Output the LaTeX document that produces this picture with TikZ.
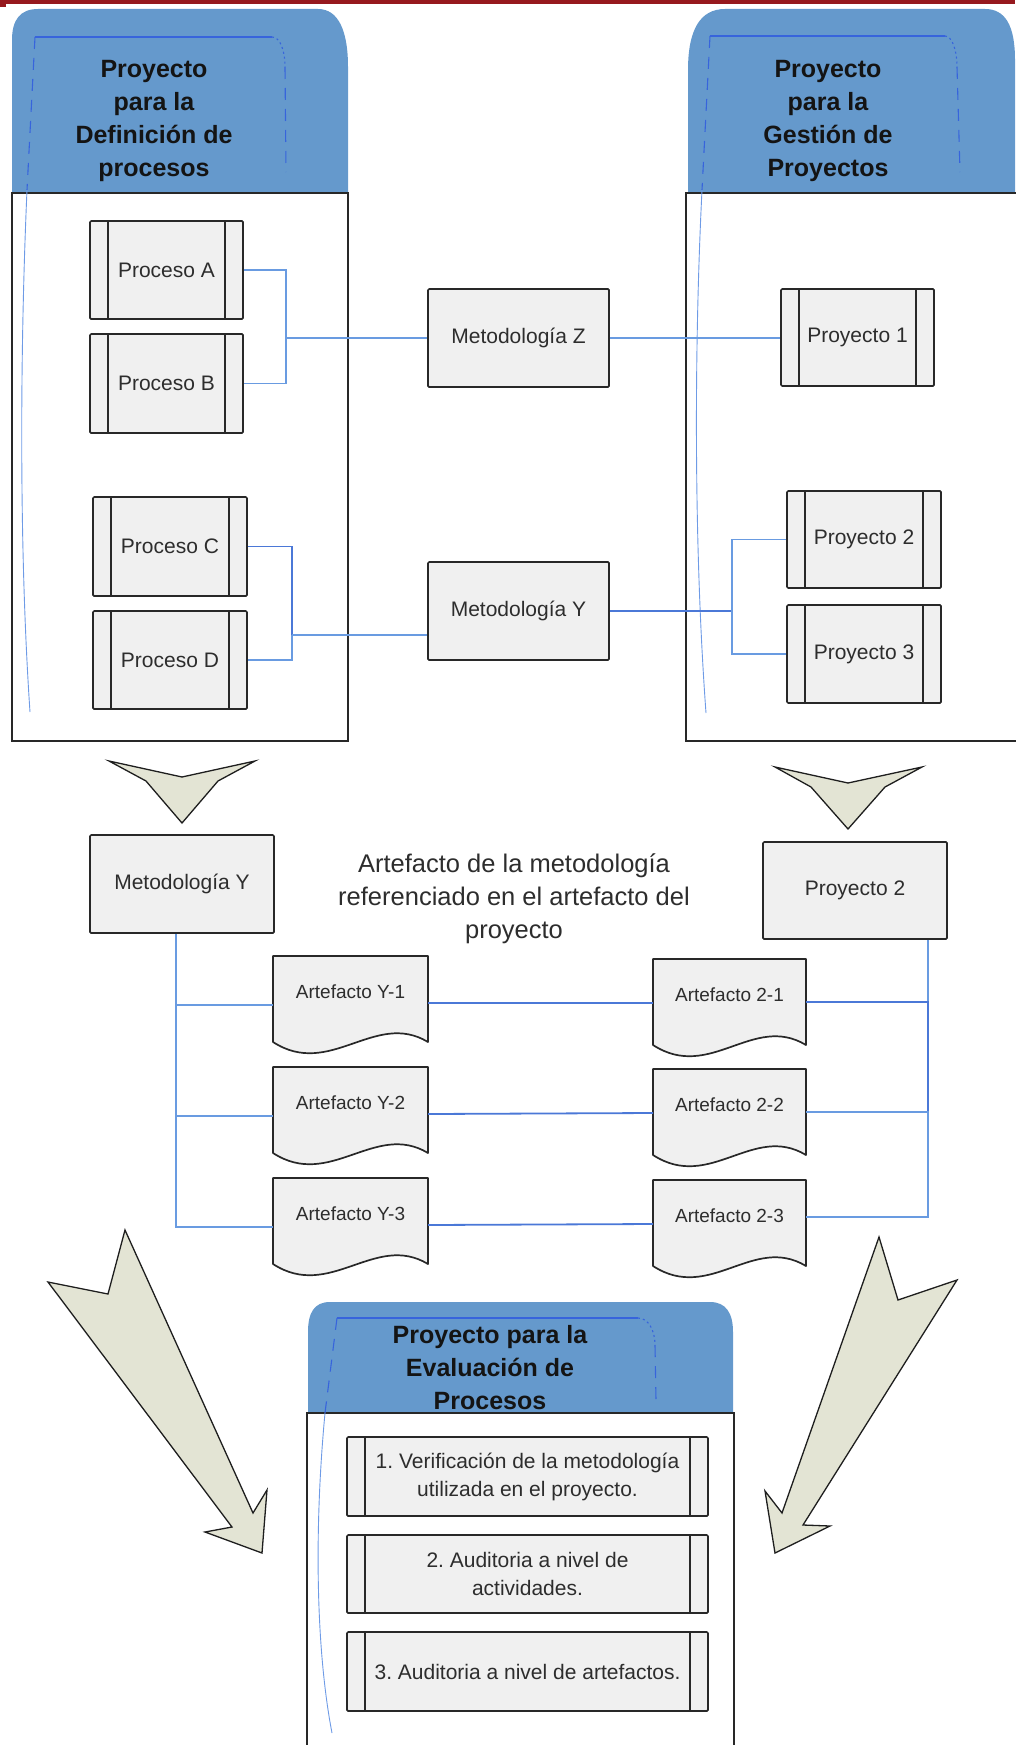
\documentclass[tikz,border=0pt]{standalone}
\usepackage{fontspec}
\setmainfont{Liberation Sans}
\usetikzlibrary{calc}
\pgfdeclarelayer{bg}
\pgfsetlayers{bg,main}
\definecolor{hdrblue}{RGB}{101,153,204}
\definecolor{boxfill}{RGB}{240,240,240}
\definecolor{boxline}{RGB}{40,40,40}
\definecolor{connblue}{RGB}{105,155,225}
\definecolor{conndark}{RGB}{75,120,215}
\definecolor{decoblue}{RGB}{55,100,220}
\definecolor{thinblue}{RGB}{110,155,230}
\definecolor{arrowfill}{RGB}{227,228,212}
\definecolor{arrowline}{RGB}{30,30,30}
\definecolor{topred}{RGB}{150,25,30}
\definecolor{txt}{RGB}{45,45,45}
\definecolor{hdrtxt}{RGB}{20,20,20}
\newcommand\pbars[1]{%
  \draw[barline] ([xshift=19pt]#1.north west) -- ([xshift=19pt]#1.south west);
  \draw[barline] ([xshift=-19pt]#1.north east) -- ([xshift=-19pt]#1.south east);}
\newcommand\docout[1]{%
  \begin{pgfonlayer}{bg}
  \draw[docline] (#1.north west) -- (#1.north east) -- ([yshift=-14pt]#1.south east)
    .. controls +(-53,-32) and +(57,37) .. ([yshift=-14pt]#1.south west) -- cycle;
  \end{pgfonlayer}}
\begin{document}
\frenchspacing
\begin{tikzpicture}[x=1pt,y=-1pt,
  box/.style={draw=boxline, fill=boxfill, line width=1.7pt, rounded corners=1.2pt, inner sep=0pt, text=txt, font=\fontsize{21}{28}\selectfont, align=center},
  doc/.style={draw=none, fill=none, inner sep=0pt, outer sep=0pt, minimum height=72pt, text=txt, font=\fontsize{19}{23}\selectfont},
  docline/.style={draw=boxline, fill=boxfill, line width=1.7pt, line join=round},
  barline/.style={draw=boxline, line width=1.7pt},
  conn/.style={draw=connblue, line width=1.8pt},
  conndk/.style={draw=conndark, line width=1.8pt},
  cont/.style={draw=boxline, line width=1.8pt},
  hdrtext/.style={font=\bfseries\fontsize{25}{33}\selectfont, text=hdrtxt, align=center, inner sep=0pt},
  deco/.style={draw=decoblue, line width=1.1pt},
  decodash/.style={deco, dash pattern=on 12pt off 9pt},
  decodot/.style={deco, dash pattern=on 2pt off 3pt},
  thinline/.style={draw=thinblue, line width=0.9pt},
  bigarrow/.style={fill=arrowfill, draw=arrowline, line width=1.3pt, line join=miter},
  note/.style={font=\fontsize{25.5}{33}\selectfont, text=txt, align=center, inner sep=0pt}
]
\useasboundingbox (0,0) rectangle (1015,1745);
% top bar
\fill[topred] (0,0) rectangle (1015,4.5);
\fill[topred] (0,0) rectangle (6,7);

% ---------- left container ----------
\fill[hdrblue] (12,193) -- (12,40) .. controls (12,20) and (20,9) .. (38,9) -- (318,9)
  .. controls (338,9) and (348,30) .. (348,67) -- (348,193) -- cycle;
\draw[cont] (12,193) rectangle (348,741);
\node[hdrtext] (hdrL) at (154,121) {Proyecto\\para la\\Definición de\\procesos};

% ---------- right container ----------
\fill[hdrblue] (688,193) -- (688,70) .. controls (688,30) and (700,9) .. (725,9) -- (985,9)
  .. controls (1005,9) and (1015,25) .. (1015,60) -- (1015,193) -- cycle;
\draw[cont] (1020,193) -- (686,193) -- (686,741) -- (1020,741);
\node[hdrtext] (hdrR) at (828,121) {Proyecto\\para la\\Gestión de\\Proyectos};

% ---------- bottom container ----------
\fill[hdrblue] (308,1413) -- (308,1332) .. controls (308,1313) and (314,1302) .. (330,1302) -- (710,1302)
  .. controls (726,1302) and (733,1313) .. (733,1332) -- (733,1413) -- cycle;
\draw[cont] (307,1760) -- (307,1413) -- (734,1413) -- (734,1760);
\node[hdrtext] (hdrB) at (490,1367.5) {Proyecto para la\\Evaluación de\\Procesos};

% decorative lines
\draw[deco] (35,37) -- (272,37);
\draw[decodot] (272,37) .. controls (280,37) and (285,50) .. (285,67);
\draw[decodash] (285,67) -- (286,172);
\draw[decodash] (35,37) -- (27,190);
\draw[thinline] (27,190) .. controls (20,350) and (19,550) .. (30,712);

\draw[deco] (710,36) -- (945,36);
\draw[decodot] (945,36) .. controls (952,36) and (957,50) .. (957,67);
\draw[decodash] (957,67) -- (960,172);
\draw[decodash] (710,36) -- (702,190);
\draw[thinline] (702,190) .. controls (694,350) and (694,550) .. (706,713);

\draw[deco] (337,1318) -- (638,1318);
\draw[decodot] (638,1318) .. controls (648,1318) and (655,1330) .. (655,1345);
\draw[decodash] (655,1345) -- (656,1400);
\draw[decodash] (337,1318) -- (325,1413);
\draw[thinline] (325,1413) .. controls (314,1530) and (316,1650) .. (332,1733);

% ---------- upper nodes ----------
\node[box, minimum width=153pt, minimum height=98pt] (procA) at (166.5,270) {Proceso A};
\node[box, minimum width=153pt, minimum height=99pt] (procB) at (166.5,383.5) {Proceso B};
\node[box, minimum width=154pt, minimum height=99pt] (procC) at (170,546.5) {Proceso C};
\node[box, minimum width=154pt, minimum height=98pt] (procD) at (170,660) {Proceso D};
\node[box, minimum width=181pt, minimum height=98pt] (metZ) at (518.5,338) {Metodología Z};
\node[box, minimum width=181pt, minimum height=98pt] (metY) at (518.5,611) {Metodología Y};
\node[box, minimum width=153pt, minimum height=97pt] (proy1) at (857.5,337.5) {Proyecto 1};
\node[box, minimum width=154pt, minimum height=97pt] (proy2) at (864,539.5) {Proyecto 2};
\node[box, minimum width=154pt, minimum height=98pt] (proy3) at (864,654) {Proyecto 3};
\pbars{procA}\pbars{procB}\pbars{procC}\pbars{procD}
\pbars{proy1}\pbars{proy2}\pbars{proy3}

\coordinate (jAB) at (286,338);
\draw[conn] (procA.east) -| (jAB) |- (procB.east);
\draw[conn] (jAB) -- (metZ.west);
\draw[conn] (metZ.east) -- (metZ.east -| proy1.west);
\coordinate (jCD) at (292,635);
\draw[conndk] (procC.east) -| (jCD);
\draw[conn] (jCD) |- (procD.east);
\draw[conn] (jCD) -- (jCD -| metY.west);
\coordinate (jP) at (732,611);
\draw[conndk] (metY.east) -- (jP);
\draw[conn] (proy2.west) -| (jP) |- (proy3.west);

% chevrons
\draw[bigarrow] (109,761) -- (182,777) -- (255,761) -- (218,781) -- (182,823) -- (146,781) -- cycle;
\draw[bigarrow] (775,767) -- (848,783) -- (922,767) -- (885,787) -- (848,829) -- (811,787) -- cycle;

% ---------- lower section ----------
\node[box, minimum width=184pt, minimum height=98pt] (metYb) at (182,884) {Metodología Y};
\node[box, minimum width=184pt, minimum height=97pt] (proy2b) at (855,890.5) {Proyecto 2};
\node[note] (note) at (514,899) {Artefacto de la metodología\\referenciado en el artefacto del\\proyecto};

\node[doc, minimum width=155pt] (artY1) at (350.5,992) {Artefacto Y-1};
\node[doc, minimum width=155pt] (artY2) at (350.5,1103) {Artefacto Y-2};
\node[doc, minimum width=155pt] (artY3) at (350.5,1214) {Artefacto Y-3};
\node[doc, minimum width=153pt] (art21) at (729.5,995) {Artefacto 2-1};
\node[doc, minimum width=153pt] (art22) at (729.5,1105) {Artefacto 2-2};
\node[doc, minimum width=153pt] (art23) at (729.5,1216) {Artefacto 2-3};
\docout{artY1}\docout{artY2}\docout{artY3}
\docout{art21}\docout{art22}\docout{art23}

\coordinate (vL) at (176,1227);
\draw[conn] (metYb.south -| vL) -- (vL) -- ($(artY3.west)+(0,13)$);
\draw[conn] ($(artY1.west)+(0,13)$) -| (vL);
\draw[conn] ($(artY2.west)+(0,13)$) -| (vL);
\coordinate (vR) at (928,1217);
\draw[conn] (proy2b.south -| vR) -- (vR) -- ($(art23.east)+(0,1)$);
\draw[conndk] ($(art21.east)+(0,7)$) -| (vR);
\draw[conn] ($(art22.east)+(0,7)$) -| (vR);
\draw[conndk] ($(artY1.east)+(0,11)$) -- ($(art21.west)+(0,8)$);
\draw[conndk] ($(artY2.east)+(0,11)$) -- ($(art22.west)+(0,8)$);
\draw[conndk] ($(artY3.east)+(0,11)$) -- ($(art23.west)+(0,8)$);

% big arrows
\draw[bigarrow] (125,1230) -- (108,1294) -- (48,1282) -- (232,1527) -- (205,1532) -- (262,1553) -- (267,1490) -- (253,1513) -- cycle;
\draw[bigarrow] (879,1237) -- (898,1300) -- (957,1280) -- (803,1525) -- (830,1526) -- (775,1553) -- (765,1491) -- (782,1513) -- cycle;

% evaluation items
\node[box, minimum width=361pt, minimum height=79pt] (ev1) at (527.5,1476.5) {1. Verificación de la metodología\\utilizada en el proyecto.};
\node[box, minimum width=361pt, minimum height=78pt] (ev2) at (527.5,1574) {2. Auditoria a nivel de\\actividades.};
\node[box, minimum width=361pt, minimum height=79pt] (ev3) at (527.5,1671.5) {3. Auditoria a nivel de artefactos.};
\pbars{ev1}\pbars{ev2}\pbars{ev3}
\end{tikzpicture}
\end{document}
